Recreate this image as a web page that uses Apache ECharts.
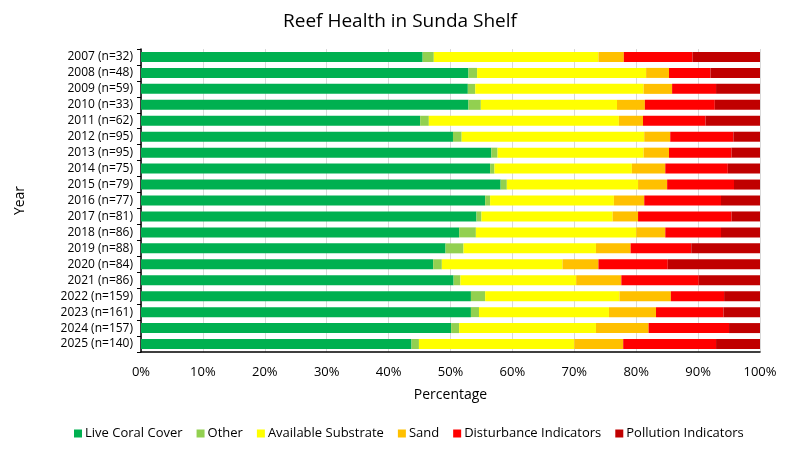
<!DOCTYPE html>
<html>
<head>
<meta charset="utf-8">
<script src="https://cdn.jsdelivr.net/npm/echarts@6/dist/echarts.min.js"></script>
<style>
  html, body { margin: 0; padding: 0; background: #fff; }
  #chart { width: 800px; height: 451px; }
</style>
</head>
<body>
<div id="chart"></div>
<script>
// years, top to bottom
var years = ["2007 (n=32)", "2008 (n=48)", "2009 (n=59)", "2010 (n=33)", "2011 (n=62)",
    "2012 (n=95)", "2013 (n=95)", "2014 (n=75)", "2015 (n=79)", "2016 (n=77)",
    "2017 (n=81)", "2018 (n=86)", "2019 (n=88)", "2020 (n=84)", "2021 (n=86)",
    "2022 (n=159)", "2023 (n=161)", "2024 (n=157)", "2025 (n=140)"];

var liveCoral    = [45.5, 52.9, 52.8, 52.9, 45.1, 50.4, 56.6, 56.4, 58.1, 55.6, 54.2, 51.4, 49.2, 47.2, 50.5, 53.3, 53.3, 50.1, 43.7];
var other        = [1.8, 1.4, 1.2, 2.0, 1.4, 1.4, 1.0, 0.7, 1.0, 0.8, 0.8, 2.7, 2.9, 1.4, 1.1, 2.3, 1.3, 1.3, 1.2];
var substrate    = [26.6, 27.3, 27.2, 22.0, 30.7, 29.5, 23.6, 22.2, 21.2, 20.0, 21.2, 25.9, 21.4, 19.5, 18.7, 21.7, 21.0, 22.1, 25.1];
var sand         = [4.1, 3.7, 4.6, 4.5, 3.9, 4.2, 4.1, 5.4, 4.7, 4.9, 4.1, 4.7, 5.6, 5.8, 7.3, 8.3, 7.6, 8.5, 7.9];
var disturbance  = [11.1, 6.7, 7.1, 11.3, 10.1, 10.2, 10.1, 10.1, 10.8, 12.4, 15.1, 9.0, 9.8, 11.2, 12.5, 8.6, 10.9, 13.0, 15.0];
var pollution    = [10.9, 8.0, 7.1, 7.3, 8.8, 4.3, 4.6, 5.2, 4.2, 6.3, 4.6, 6.3, 11.1, 14.9, 9.9, 5.8, 5.9, 5.0, 7.1];

var xTicks = [0, 10, 20, 30, 40, 50, 60, 70, 80, 90, 100];

var font = "'Liberation Sans Narrow', 'Open Sans', 'Noto Sans', sans-serif";

var chart = echarts.init(document.getElementById("chart"));

function bar(name, data, color) {
    return {
        name: name,
        type: "bar",
        stack: "total",
        data: data,
        barWidth: 10,
        itemStyle: { color: color },
        emphasis: { disabled: true }
    };
}

chart.setOption({
    animation: false,
    textStyle: { fontFamily: font },
    title: {
        text: "Reef Health in Sunda Shelf",
        left: "center",
        top: 7,
        textStyle: { fontSize: 19, fontWeight: "normal", color: "#000", fontFamily: font }
    },
    grid: { left: 141, right: 40, top: 49, bottom: 99 },
    xAxis: {
        type: "value",
        min: 0,
        max: 100,
        interval: 10,
        name: "Percentage",
        nameLocation: "middle",
        nameGap: 36,
        nameTextStyle: { fontSize: 14, color: "#000", fontFamily: font },
        axisLine: { show: true, lineStyle: { color: "#000", width: 1.5 } },
        axisTick: { show: false },
        axisLabel: {
            fontSize: 13, color: "#000", margin: 14,
            formatter: function (v) { return xTicks.indexOf(v) >= 0 ? v + "%" : ""; }
        },
        splitLine: { show: true, lineStyle: { color: "#d9d9d9" } }
    },
    yAxis: {
        type: "category",
        data: years,
        inverse: true,
        name: "Year",
        nameLocation: "middle",
        nameGap: 114,
        nameRotate: 90,
        nameTextStyle: { fontSize: 14, color: "#000", fontFamily: font },
        axisLine: { show: true, lineStyle: { color: "#000", width: 1.5 } },
        axisTick: { show: true, length: 4, lineStyle: { color: "#000" } },
        axisLabel: { fontSize: 12, color: "#000", margin: 8 }
    },
    legend: {
        bottom: 6,
        left: 69,
        itemWidth: 8,
        itemHeight: 8,
        itemGap: 14,
        icon: "rect",
        textStyle: { fontSize: 13, color: "#000", fontFamily: font, padding: [0, 0, 0, -2] },
        data: ["Live Coral Cover", "Other", "Available Substrate", "Sand", "Disturbance Indicators", "Pollution Indicators"]
    },
    series: [
        bar("Live Coral Cover", liveCoral, "#00B050"),
        bar("Other", other, "#92D050"),
        bar("Available Substrate", substrate, "#FFFF00"),
        bar("Sand", sand, "#FFC000"),
        bar("Disturbance Indicators", disturbance, "#FF0000"),
        bar("Pollution Indicators", pollution, "#C00000")
    ]
});
</script>
</body>
</html>
